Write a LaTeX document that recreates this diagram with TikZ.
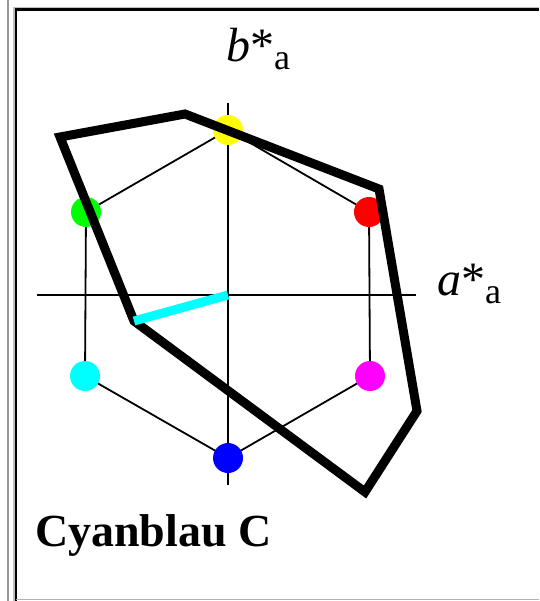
\documentclass[tikz,border=0pt]{standalone}
\usepackage{fontspec}
\setmainfont{Liberation Serif}
\definecolor{cY}{RGB}{255,255,0}
\definecolor{cR}{RGB}{255,0,0}
\definecolor{cG}{RGB}{0,255,0}
\definecolor{cB}{RGB}{0,0,255}
\definecolor{cC}{RGB}{0,255,255}
\definecolor{cM}{RGB}{255,0,255}
\tikzset{
  dot/.style={circle, inner sep=0pt, minimum size=30pt, draw=none},
  thin line/.style={line width=1.8pt, black},
  thick poly/.style={line width=9pt, black, line join=miter, miter limit=10},
  cyan seg/.style={line width=9pt, cC},
  lab/.style={anchor=base west, inner sep=0pt},
}
\begin{document}
\begin{tikzpicture}[x=1pt,y=-1pt]
\useasboundingbox (0,0) rectangle (539,601);
\fill[white] (0,0) rectangle (539,601);
% frame
\coordinate (g1) at (8,0); \coordinate (g2) at (8,601);
\draw[line width=1.6pt, gray!80] (g1) -- (g2);
\coordinate (f1) at (15,601); \coordinate (f2) at (15,9); \coordinate (f3) at (539,9);
\draw[line width=3.5pt, gray!50] (f1) -- (f2) -- (f3);
\draw[line width=2.2pt, black] ([xshift=0.6pt]f1) -- ([xshift=0.6pt,yshift=-0.6pt]f2) -- ([yshift=-0.6pt]f3);
\coordinate (b1) at (16,599.5); \coordinate (b2) at (539,599.5);
\draw[line width=1.5pt, gray!60] (b1) -- (b2);
% hexagon corner points
\coordinate (Y) at (228,130);
\coordinate (R) at (369,212);
\coordinate (M) at (370,376);
\coordinate (B) at (228,458);
\coordinate (C) at (85,376);
\coordinate (G) at (86,212);
% axes
\coordinate (ax1) at (37,295); \coordinate (ax2) at (416,295);
\coordinate (ay1) at (228,103); \coordinate (ay2) at (228,485);
\coordinate (O) at (228,295);
\draw[thin line] (Y) -- (R) -- (M) -- (B) -- (C) -- (G) -- cycle;
\draw[thin line] (ax1) -- (ax2);
\draw[thin line] (ay1) -- (ay2);
% dots
\node[dot, fill=cY] (dY) at (Y) {};
\node[dot, fill=cR] (dR) at (R) {};
\node[dot, fill=cM] (dM) at (M) {};
\node[dot, fill=cB] (dB) at (B) {};
\node[dot, fill=cC] (dC) at (C) {};
\node[dot, fill=cG] (dG) at (G) {};
% thick polygon
\coordinate (p1) at (60,137);
\coordinate (p2) at (185,114);
\coordinate (p3) at (379,189);
\coordinate (p4) at (417,411);
\coordinate (p5) at (365,492);
\coordinate (p6) at (134,321);
\draw[thick poly] (p1) -- (p2) -- (p3) -- (p4) -- (p5) -- (p6) -- cycle;
\draw[cyan seg] (p6) -- (O);
% labels
\node[lab] (lb) at (226,62) {\fontsize{48}{50}\selectfont\textit{b}*\raisebox{-8pt}{\fontsize{36}{40}\selectfont a}};
\node[lab] (la) at (437,295) {\fontsize{48}{50}\selectfont\textit{a}*\raisebox{-8pt}{\fontsize{36}{40}\selectfont a}};
\node[lab] (title) at (35,546) {\fontsize{46}{50}\selectfont\bfseries Cyanblau C};
\end{tikzpicture}
\end{document}
